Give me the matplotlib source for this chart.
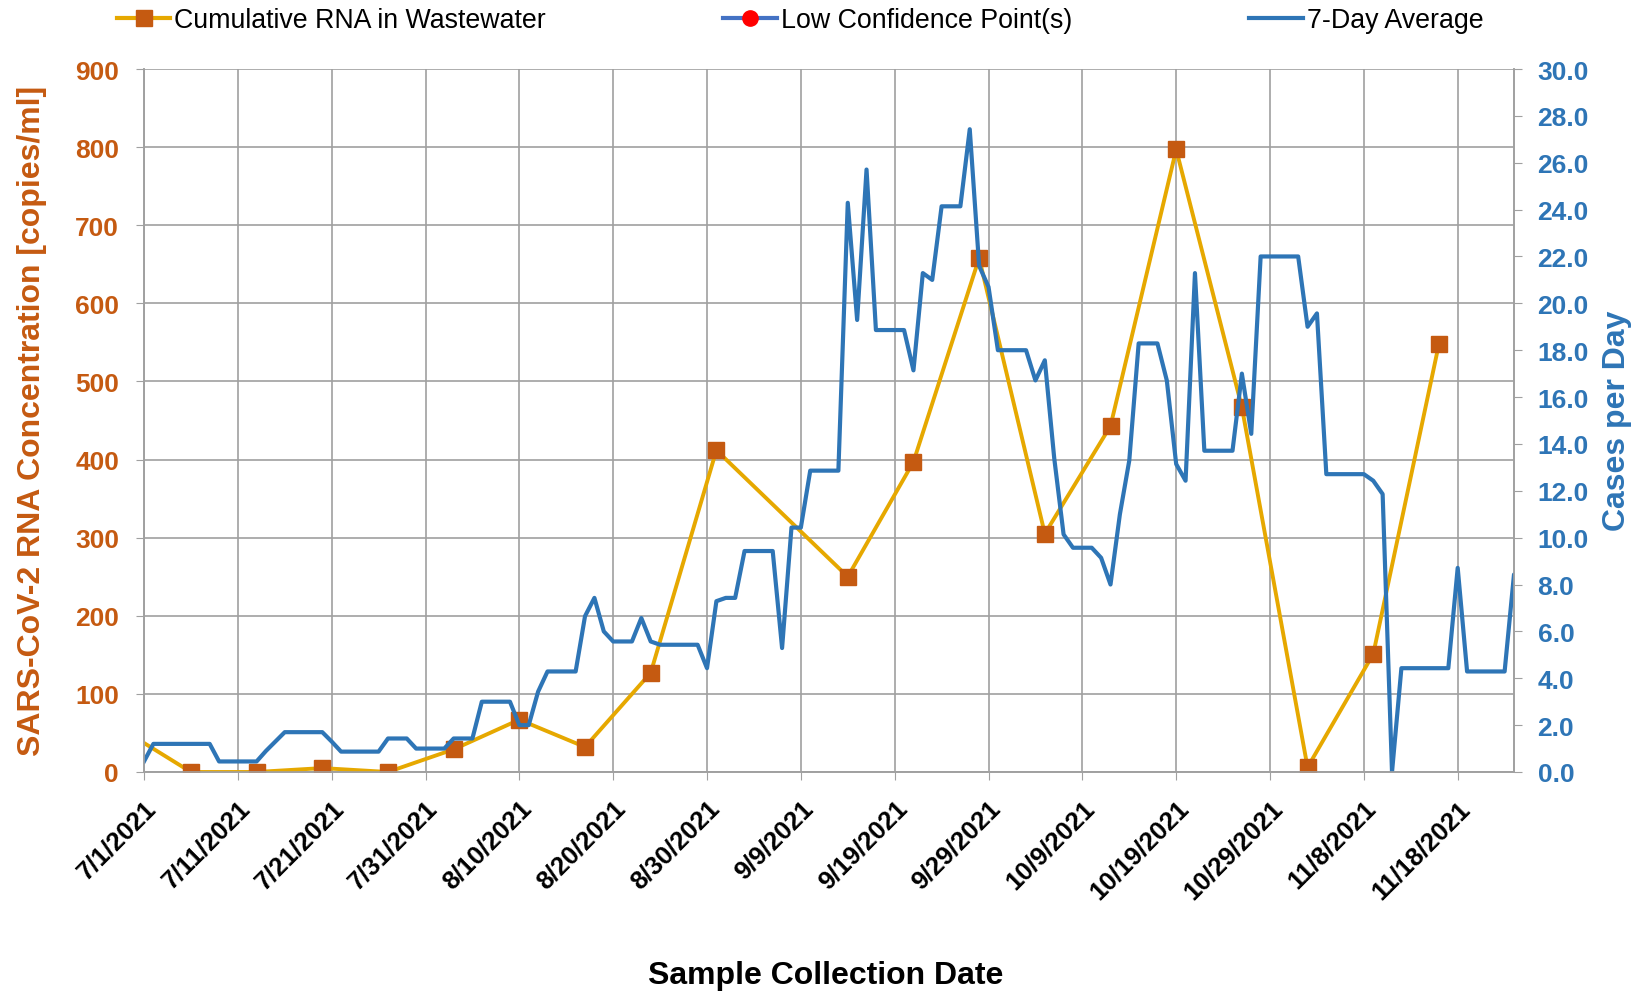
import numpy as np
import pandas as pd
import matplotlib
matplotlib.use("Agg")
import matplotlib.pyplot as plt
from matplotlib.lines import Line2D

plt.rcParams['font.family'] = ['Liberation Sans', 'DejaVu Sans']

# weekly wastewater samples (left axis, copies/ml)
rna_dates = pd.to_datetime([
    "2021-06-29", "2021-07-06", "2021-07-13", "2021-07-20", "2021-07-27",
    "2021-08-03", "2021-08-10", "2021-08-17", "2021-08-24", "2021-08-31",
    "2021-09-14", "2021-09-21", "2021-09-28", "2021-10-05", "2021-10-12",
    "2021-10-19", "2021-10-26", "2021-11-02", "2021-11-09", "2021-11-16",
])
rna_values = [52, 0, 0, 5, 0, 29, 67, 32, 127, 412,
              250, 397, 658, 305, 443, 797, 467, 6, 151, 548]

# 7-day average of cases, one value per day starting 7/1/2021 (right axis)
case_start = "2021-07-01"
case_avg = [
    0.45, 1.2, 1.2, 1.2, 1.2, 1.2, 1.2, 1.2, 0.45, 0.45,
    0.45, 0.45, 0.45, 0.9, 1.3, 1.7, 1.7, 1.7, 1.7, 1.7,
    1.3, 0.87, 0.87, 0.87, 0.87, 0.87, 1.43, 1.43, 1.43, 1.0,
    1.0, 1.0, 1.0, 1.43, 1.43, 1.43, 3.0, 3.0, 3.0, 3.0,
    2.0, 2.0, 3.43, 4.29, 4.29, 4.29, 4.29, 6.65, 7.43, 6.0,
    5.57, 5.57, 5.57, 6.57, 5.57, 5.43, 5.43, 5.43, 5.43, 5.43,
    4.43, 7.29, 7.43, 7.43, 9.43, 9.43, 9.43, 9.43, 5.29, 10.43,
    10.43, 12.86, 12.86, 12.86, 12.86, 24.29, 19.29, 25.71, 18.86, 18.86,
    18.86, 18.86, 17.14, 21.29, 21.0, 24.14, 24.14, 24.14, 27.43, 21.6,
    20.7, 18.0, 18.0, 18.0, 18.0, 16.71, 17.57, 13.4, 10.14, 9.57,
    9.57, 9.57, 9.14, 8.0, 11.0, 13.29, 18.29, 18.29, 18.29, 16.71,
    13.14, 12.43, 21.29, 13.71, 13.71, 13.71, 13.71, 17.0, 14.43, 22.0,
    22.0, 22.0, 22.0, 22.0, 19.0, 19.57, 12.71, 12.71, 12.71, 12.71,
    12.71, 12.43, 11.86, 0.0, 4.43, 4.43, 4.43, 4.43, 4.43, 4.43,
    8.71, 4.29, 4.29, 4.29, 4.29, 4.29, 8.43, 4.3,
]
case_dates = pd.date_range(case_start, periods=len(case_avg), freq="D")

tick_dates = pd.date_range("2021-07-01", "2021-11-18", freq="10D")
tick_labels = [f"{d.month}/{d.day}/{d.year}" for d in tick_dates]

ORANGE = "#C55A11"
GOLD = "#E6A800"
BLUE = "#2E75B6"
GRID = "#A0A0A0"

W, H = 1646, 995
fig = plt.figure(figsize=(W / 100, H / 100), dpi=100)
ax = fig.add_axes([144 / W, 1 - 773 / H, (1514 - 144) / W, (773 - 70) / H])
ax2 = ax.twinx()

ax.plot(rna_dates, rna_values, color=GOLD, lw=2.8, marker="s", ms=11,
        mfc=ORANGE, mec=ORANGE, zorder=3)
ax2.plot(case_dates, case_avg, color=BLUE, lw=3, zorder=2)

ax.set_xlim(pd.Timestamp("2021-07-01"), pd.Timestamp("2021-11-24"))
ax.set_ylim(0, 900)
ax.set_yticks(np.arange(0, 901, 100))
ax2.set_ylim(0, 30)
ax2.set_yticks(np.arange(0, 30.1, 2))
ax2.set_yticklabels([f"{v:.1f}" for v in np.arange(0, 30.1, 2)])

ax.set_xticks(tick_dates)
ax.set_xticklabels(tick_labels, rotation=45, ha="right", rotation_mode="anchor",
                   fontsize=18.5, fontweight="bold")
ax.grid(True, color=GRID, lw=1.2)
ax.set_axisbelow(True)

for lab in ax.get_yticklabels():
    lab.set_color(ORANGE)
    lab.set_fontweight("bold")
    lab.set_fontsize(19)
for lab in ax2.get_yticklabels():
    lab.set_color(BLUE)
    lab.set_fontweight("bold")
    lab.set_fontsize(19)

ax.tick_params(axis="y", length=6, color=GRID, pad=12)
ax.tick_params(axis="x", length=6, color=GRID, pad=11)
ax2.tick_params(axis="y", length=6, color=GRID, pad=11)

for a in (ax, ax2):
    for s in a.spines.values():
        s.set_color(GRID)
        s.set_linewidth(1.2)
    a.spines["top"].set_visible(False)

fig.text(32 / W, 1 - 421 / H, "SARS-CoV-2 RNA Concentration [copies/ml]",
         color=ORANGE, fontsize=23, fontweight="bold", rotation=90,
         ha="center", va="center")
fig.text(1617 / W, 1 - 421 / H, "Cases per Day", color=BLUE, fontsize=23,
         fontweight="bold", rotation=90, ha="center", va="center")
fig.text(826 / W, 1 - 976 / H, "Sample Collection Date", fontsize=23,
         fontweight="bold", ha="center", va="center")

handles = [
    Line2D([], [], color=GOLD, lw=3, marker="s", ms=11, mfc=ORANGE, mec=ORANGE),
    Line2D([], [], color="#4472C4", lw=3, marker="o", ms=11, mfc="#FF0000", mec="#FF0000"),
    Line2D([], [], color=BLUE, lw=3),
]
fig.legend(handles, ["Cumulative RNA in Wastewater", "Low Confidence Point(s)", "7-Day Average"],
           loc="center", bbox_to_anchor=(800 / W, 1 - 21 / H), ncol=3, frameon=False,
           fontsize=19.3, columnspacing=6.6, handlelength=2.0, handletextpad=0.15,
           borderpad=0, borderaxespad=0)

fig.savefig("out.png", dpi=100)
